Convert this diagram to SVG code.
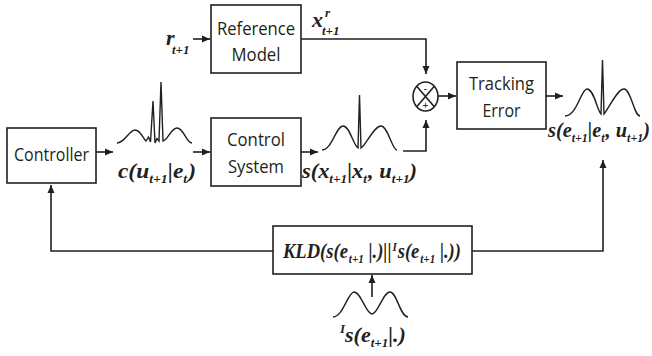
<svg xmlns="http://www.w3.org/2000/svg" width="652" height="356" viewBox="0 0 652 356">
<style>
.box{fill:#fff;stroke:#231f20;stroke-width:1.6}
.ln{fill:none;stroke:#231f20;stroke-width:1.6}
.cv{fill:none;stroke:#231f20;stroke-width:1.4}
.lb{font-family:"Open Sans","Noto Sans","Liberation Sans",sans-serif;font-size:18px;fill:#231f20;text-anchor:middle}
.m{font-family:"Liberation Serif","Times New Roman",serif;font-weight:bold;font-style:italic;font-size:22px;fill:#231f20}
.s{font-size:13px}
</style>
<defs>
<marker id="ah" markerUnits="userSpaceOnUse" markerWidth="9" markerHeight="8" refX="8" refY="4" orient="auto">
<path d="M0,0.5 L8,4 L0,7.5 z" fill="#231f20"/>
</marker>
</defs>
<rect width="652" height="356" fill="#fff"/>

<g id="connectors">
<path class="ln" d="M193,39 H210" marker-end="url(#ah)"/>
<path class="ln" d="M301,39 H426 V74" marker-end="url(#ah)"/>
<path class="ln" d="M96,152 H113" marker-end="url(#ah)"/>
<path class="ln" d="M193,152 H210" marker-end="url(#ah)"/>
<path class="ln" d="M301,152 H318" marker-end="url(#ah)"/>
<path class="ln" d="M403,151 H426 V120" marker-end="url(#ah)"/>
<path class="ln" d="M438,96 H456" marker-end="url(#ah)"/>
<path class="ln" d="M546,96 H563" marker-end="url(#ah)"/>
<path class="ln" d="M273,251 H51 V185" marker-end="url(#ah)"/>
<path class="ln" d="M472,251 H603 V160" marker-end="url(#ah)"/>
<path class="ln" d="M372,297 V275" marker-end="url(#ah)"/>
</g>

<g id="reference-model">
<rect class="box" x="211" y="5" width="90" height="68"/>
<text class="lb" x="256" y="35" textLength="78" lengthAdjust="spacingAndGlyphs">Reference</text>
<text class="lb" x="256" y="61" textLength="49" lengthAdjust="spacingAndGlyphs">Model</text>
</g>

<g id="controller">
<rect class="box" x="7" y="128" width="89" height="55"/>
<text class="lb" x="51.5" y="161" textLength="75" lengthAdjust="spacingAndGlyphs">Controller</text>
</g>

<g id="control-system">
<rect class="box" x="211" y="118" width="90" height="68"/>
<text class="lb" x="256" y="146" textLength="58" lengthAdjust="spacingAndGlyphs">Control</text>
<text class="lb" x="256" y="173" textLength="56" lengthAdjust="spacingAndGlyphs">System</text>
</g>

<g id="tracking-error">
<rect class="box" x="457" y="62" width="89" height="67"/>
<text class="lb" x="501.5" y="90" textLength="65" lengthAdjust="spacingAndGlyphs">Tracking</text>
<text class="lb" x="501.5" y="117" textLength="38" lengthAdjust="spacingAndGlyphs">Error</text>
</g>

<g id="kld">
<rect class="box" x="273" y="226" width="199" height="48"/>
<text class="m" x="283" y="258" style="font-size:20px" textLength="178" lengthAdjust="spacingAndGlyphs">KLD(s(e<tspan style="font-size:12px" dx="1" dy="5">t+1</tspan><tspan dy="-5"> |.)||</tspan><tspan style="font-size:12px" dx="1" dy="-7">I</tspan><tspan dx="1" dy="7">s(e</tspan><tspan style="font-size:12px" dx="1" dy="5">t+1</tspan><tspan dy="-5"> |.))</tspan></text>
</g>

<g id="summing-junction">
<ellipse class="ln" cx="425.5" cy="96.5" rx="12.5" ry="14.5"/>
<path class="ln" d="M416.7,86.3 L434.3,106.7 M434.3,86.3 L416.7,106.7" stroke-width="1.2"/>
<text x="425.5" y="92" style="font-family:'Liberation Sans',sans-serif;font-size:10px;text-anchor:middle;fill:#231f20">-</text>
<text x="425.5" y="108.5" style="font-family:'Liberation Sans',sans-serif;font-size:10px;text-anchor:middle;fill:#231f20">+</text>
</g>

<g id="r-input">
<text class="m" x="166" y="45">r<tspan class="s" x="172" y="54">t+1</tspan></text>
</g>

<g id="xr-label">
<text class="m" x="312" y="27">x<tspan class="s" x="325" y="17">r</tspan><tspan class="s" x="322" y="35">t+1</tspan></text>
</g>

<g id="control-dist">
<path class="cv" d="M117,143 C125,143 129,130 135,130 C141,130 143,139 146,141 L148.5,137 L150.5,142 L153,101 L155,143 L157,138.5 L159,141 L161,82 L163,141 C168,140 171,128 177,128 C184,128 186,143 192,143"/>
<text class="m" x="118" y="178" textLength="78" lengthAdjust="spacingAndGlyphs">c(u<tspan class="s" dy="5">t+1</tspan><tspan dy="-5">|e</tspan><tspan class="s" dy="5">t</tspan><tspan dx="1" dy="-5">)</tspan></text>
</g>

<g id="system-dist">
<path class="cv" d="M322,150 C332,150 336,126 343,126 C350,126 353,145 358,148 L359.5,95 L361,148 C366,145 374,126 381,126 C388,126 392,150 397,150"/>
<text class="m" x="302" y="178" textLength="115" lengthAdjust="spacingAndGlyphs">s(x<tspan class="s" dy="5">t+1</tspan><tspan dy="-5">|x</tspan><tspan class="s" dy="5">t</tspan><tspan dx="1" dy="-5">, u</tspan><tspan class="s" dy="5">t+1</tspan><tspan dy="-5">)</tspan></text>
</g>

<g id="error-dist">
<path class="cv" d="M565,116 C577,116 581,89 587,89 C594,89 597,110 601,114 L602.5,60 L604,114 C608,110 617,89 624,89 C631,89 634,116 640,116"/>
<text class="m" x="548" y="137" textLength="102" lengthAdjust="spacingAndGlyphs">s(e<tspan class="s" dy="5">t+1</tspan><tspan dy="-5">|e</tspan><tspan class="s" dy="5">t</tspan><tspan dx="1" dy="-5">, u</tspan><tspan class="s" dy="5">t+1</tspan><tspan dy="-5">)</tspan></text>
</g>

<g id="ideal-dist">
<path class="cv" d="M333,317 C343,317 348,292 354,292 C361,292 366,314 372,314 C378,314 383,292 390,292 C397,292 400,317 408,317"/>
<text class="m" x="340" y="342"><tspan class="s" dy="-9">I</tspan><tspan dy="9">s(e</tspan><tspan class="s" dy="5">t+1</tspan><tspan dy="-5">|.)</tspan></text>
</g>
</svg>
